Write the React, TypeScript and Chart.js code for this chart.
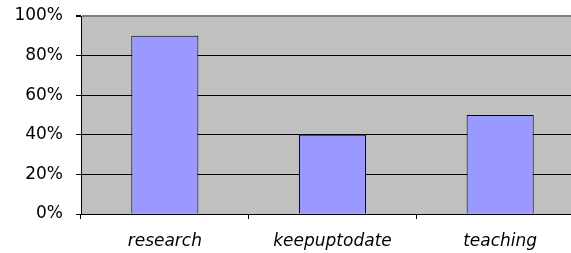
import React, { useEffect, useRef } from "react";
import { Chart, registerables } from "chart.js";

Chart.register(...registerables);

const categories = ["research", "keepuptodate", "teaching"];
const values = [90, 40, 50];
const yTicks = [0, 20, 40, 60, 80, 100];

const bgPlugin = {
  id: "plotBg",
  beforeDraw(chart: any) {
    const { ctx, chartArea } = chart;
    ctx.save();
    ctx.fillStyle = "#C0C0C0";
    ctx.fillRect(chartArea.left, chartArea.top, chartArea.right - chartArea.left, chartArea.bottom - chartArea.top);
    ctx.restore();
  },
};

export default function App() {
  const ref = useRef<HTMLCanvasElement>(null);
  useEffect(() => {
    const chart = new Chart(ref.current!, {
      type: "bar",
      data: {
        labels: categories,
        datasets: [
          {
            data: values,
            backgroundColor: "#9999FF",
            borderColor: "#000000",
            borderWidth: 1,
            barPercentage: 0.5,
            categoryPercentage: 0.8,
          },
        ],
      },
      options: {
        responsive: false,
        animation: false,
        layout: { padding: { left: 0, right: 1, top: 16, bottom: 0 } },
        plugins: { legend: { display: false }, tooltip: { enabled: false } },
        scales: {
          x: {
            afterFit: (s: any) => { s.height = 39; s.paddingLeft = 0; s.paddingRight = 0; },
            grid: {
              drawOnChartArea: false,
              drawTicks: true,
              tickLength: 5,
              tickColor: "#000000",
              offset: true,
            },
            border: { display: true, color: "#000000", width: 1 },
            ticks: {
              color: "#000000",
              padding: 12,
              maxRotation: 0,
              font: { family: "DejaVu Sans", size: 17, style: "italic" },
            },
          },
          y: {
            min: 0,
            max: 100,
            afterFit: (s: any) => { s.width = 81; s.paddingTop = 0; s.paddingBottom = 0; },
            afterBuildTicks: (s: any) => { s.ticks = yTicks.map((v) => ({ value: v })); },
            grid: {
              drawTicks: true,
              tickLength: 5,
              color: (c: any) => (c.tick && c.tick.value === 100 ? "#808080" : "#000000"),
              lineWidth: (c: any) => (c.tick && c.tick.value === 100 ? 2 : 1),
              tickColor: "#000000",
            },
            border: { display: true, color: "#000000", width: 1 },
            ticks: {
              color: "#000000",
              padding: 13,
              callback: (v: any) => v + "%",
              font: { family: "DejaVu Sans", size: 17 },
            },
          },
        },
      },
      plugins: [bgPlugin],
    });
    return () => chart.destroy();
  }, []);
  return (
    <div style={{ position: "absolute", left: 0, top: 0, width: 571, height: 253, overflow: "hidden", background: "#fff" }}>
      <canvas ref={ref} width={585} height={253} style={{ display: "block" }} />
    </div>
  );
}
